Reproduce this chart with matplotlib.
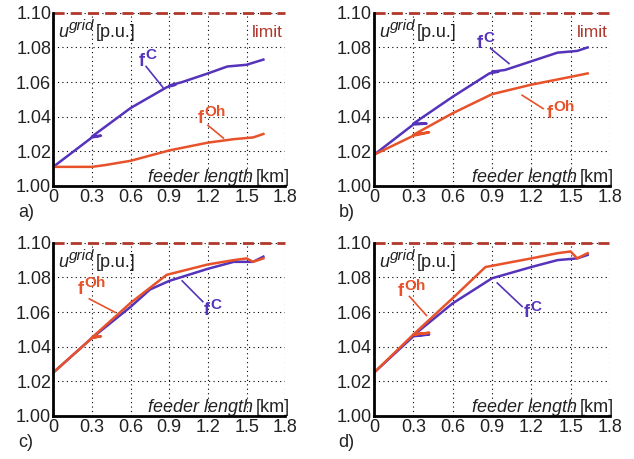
import matplotlib
matplotlib.use("Agg")
import matplotlib.pyplot as plt

plt.rcParams['font.family'] = ['Liberation Sans', 'DejaVu Sans']

BLUE = '#5533bb'
ORANGE = '#e8522a'
LIMIT = '#b0382c'
INK = '#222222'

x_ticks = [0, 0.3, 0.6, 0.9, 1.2, 1.5, 1.8]
x_tick_labels = ['0', '0.3', '0.6', '0.9', '1.2', '1.5', '1.8']
y_ticks = [1.00, 1.02, 1.04, 1.06, 1.08, 1.10]
y_tick_labels = ['1.00', '1.02', '1.04', '1.06', '1.08', '1.10']
limit_value = 1.10

# panel a
a_fc_x = [0, 0.3, 0.37, 0.3, 0.6, 0.88, 0.95, 0.9, 1.0, 1.2, 1.35, 1.5, 1.63]
a_fc_y = [1.011, 1.028, 1.029, 1.0285, 1.045, 1.057, 1.0585, 1.058, 1.060, 1.065, 1.069, 1.070, 1.073]
a_foh_x = [0, 0.3, 0.4, 0.6, 0.9, 1.2, 1.4, 1.55, 1.63]
a_foh_y = [1.011, 1.011, 1.012, 1.0145, 1.0205, 1.025, 1.027, 1.028, 1.030]

# panel b
b_fc_x = [0, 0.3, 0.4, 0.3, 0.6, 0.88, 0.95, 0.9, 1.0, 1.2, 1.4, 1.55, 1.63]
b_fc_y = [1.018, 1.0355, 1.036, 1.036, 1.0515, 1.065, 1.066, 1.066, 1.067, 1.072, 1.077, 1.078, 1.080]
b_foh_x = [0, 0.3, 0.42, 0.3, 0.6, 0.9, 1.2, 1.5, 1.63]
b_foh_y = [1.018, 1.029, 1.031, 1.0295, 1.042, 1.053, 1.0585, 1.063, 1.065]

# panel c
c_fc_x = [0, 0.3, 0.6, 0.75, 0.9, 1.2, 1.4, 1.5, 1.55, 1.63]
c_fc_y = [1.025, 1.045, 1.063, 1.073, 1.078, 1.085, 1.089, 1.089, 1.089, 1.092]
c_foh_x = [0, 0.3, 0.37, 0.3, 0.6, 0.88, 1.2, 1.4, 1.5, 1.55, 1.63]
c_foh_y = [1.025, 1.045, 1.046, 1.0452, 1.0653, 1.0815, 1.0875, 1.090, 1.091, 1.089, 1.091]

# panel d
d_fc_x = [0, 0.3, 0.42, 0.3, 0.6, 0.9, 1.2, 1.4, 1.55, 1.63]
d_fc_y = [1.025, 1.046, 1.047, 1.0465, 1.065, 1.0795, 1.086, 1.090, 1.091, 1.093]
d_foh_x = [0, 0.3, 0.42, 0.3, 0.6, 0.85, 1.2, 1.4, 1.5, 1.55, 1.63]
d_foh_y = [1.025, 1.047, 1.048, 1.047, 1.068, 1.086, 1.091, 1.094, 1.095, 1.091, 1.094]

# label positions (text xy, leader start, leader end) in data coords
panels = [
    dict(tag='a)', fc=(a_fc_x, a_fc_y), foh=(a_foh_x, a_foh_y), limit_text=True,
         fc_lab=(0.66, 1.0695), fc_lead=((0.72, 1.069), (0.85, 1.057)),
         foh_lab=(1.12, 1.0365), foh_lead=((1.20, 1.035), (1.32, 1.0276))),
    dict(tag='b)', fc=(b_fc_x, b_fc_y), foh=(b_foh_x, b_foh_y), limit_text=True,
         fc_lab=(0.78, 1.0795), fc_lead=((0.89, 1.0794), (1.03, 1.0707)),
         foh_lab=(1.32, 1.0395), foh_lead=((1.13, 1.0524), (1.29, 1.0447))),
    dict(tag='c)', fc=(c_fc_x, c_fc_y), foh=(c_foh_x, c_foh_y), limit_text=False,
         fc_lab=(1.17, 1.058), fc_lead=((1.00, 1.078), (1.16, 1.066)),
         foh_lab=(0.19, 1.0705), foh_lead=((0.28, 1.0676), (0.48, 1.0598))),
    dict(tag='d)', fc=(d_fc_x, d_fc_y), foh=(d_foh_x, d_foh_y), limit_text=False,
         fc_lab=(1.14, 1.057), fc_lead=((0.94, 1.0768), (1.13, 1.0632)),
         foh_lab=(0.18, 1.069), foh_lead=((0.27, 1.069), (0.40, 1.058))),
]


def sup_label(ax, x, y, base, sup, color, size=13, sup_size=11, style='normal',
              weight='bold', transform=None):
    """Base text with a raised superscript next to it."""
    kw = dict(color=color, fontweight=weight, fontstyle=style, va='baseline')
    if transform is not None:
        kw['transform'] = transform
    t = ax.text(x, y, base, fontsize=size, **kw)
    s = ax.annotate(sup, xy=(1, 0), xycoords=t, xytext=(0.5, 5.5),
                    textcoords='offset points', fontsize=sup_size,
                    color=color, fontweight=weight, fontstyle=style,
                    ha='left', va='bottom')
    return t, s


fig = plt.figure(figsize=(6.34, 4.59), dpi=100)
rects = [
    [0.084, 0.595, 0.366, 0.377],
    [0.590, 0.595, 0.372, 0.377],
    [0.084, 0.094, 0.366, 0.377],
    [0.590, 0.094, 0.372, 0.377],
]

for rect, p in zip(rects, panels):
    ax = fig.add_axes(rect)
    ax.set_xlim(0, 1.8)
    ax.set_ylim(1.0, 1.10)
    ax.set_xticks(x_ticks)
    ax.set_xticklabels(x_tick_labels)
    ax.set_yticks(y_ticks)
    ax.set_yticklabels(y_tick_labels)
    ax.tick_params(labelsize=13, length=0, labelcolor=INK)
    ax.tick_params(axis='x', pad=2.5)
    ax.tick_params(axis='y', pad=1.5)
    ax.grid(True, color='black', linestyle=(0, (1, 3)), linewidth=0.8)
    for s in ['top', 'right']:
        ax.spines[s].set_visible(False)
    for s in ['left', 'bottom']:
        ax.spines[s].set_linewidth(2)
        ax.spines[s].set_zorder(5)

    ax.axhline(limit_value, color=LIMIT, linestyle=(0, (4, 2.2)), linewidth=2,
               zorder=4, clip_on=False)

    ax.plot(*p['fc'], color=BLUE, linewidth=1.8, zorder=3)
    ax.plot(*p['foh'], color=ORANGE, linewidth=1.8, zorder=3)

    sup_label(ax, *p['fc_lab'], 'f', 'C', BLUE)
    sup_label(ax, *p['foh_lab'], 'f', 'Oh', ORANGE)
    (x0, y0), (x1, y1) = p['fc_lead']
    ax.plot([x0, x1], [y0, y1], color=BLUE, linewidth=1.2)
    (x0, y0), (x1, y1) = p['foh_lead']
    ax.plot([x0, x1], [y0, y1], color=ORANGE, linewidth=1.2)

    _, g = sup_label(ax, 0.02, 0.86, 'u', 'grid', INK, size=13, sup_size=11,
                     style='italic', weight='normal', transform=ax.transAxes)
    ax.annotate('[p.u.]', xy=(1, 0), xycoords=g, xytext=(1, -5.5),
                textcoords='offset points', fontsize=13, color=INK,
                ha='left', va='bottom')

    fl = ax.text(0.86, 0.025, 'feeder length', transform=ax.transAxes,
                 fontsize=13, fontstyle='italic', color=INK, ha='right',
                 va='baseline')
    ax.annotate('[km]', xy=(1, 0), xycoords=fl, xytext=(2, 0),
                textcoords='offset points', fontsize=13, color=INK,
                ha='left', va='bottom')
    if p['limit_text']:
        ax.text(0.99, 0.86, 'limit', transform=ax.transAxes, fontsize=12.5,
                color=LIMIT, ha='right', va='baseline')
    ax.text(-0.15, -0.155, p['tag'], transform=ax.transAxes, fontsize=13,
            color=INK, ha='left', va='center')

fig.savefig('out.png', dpi=100)
